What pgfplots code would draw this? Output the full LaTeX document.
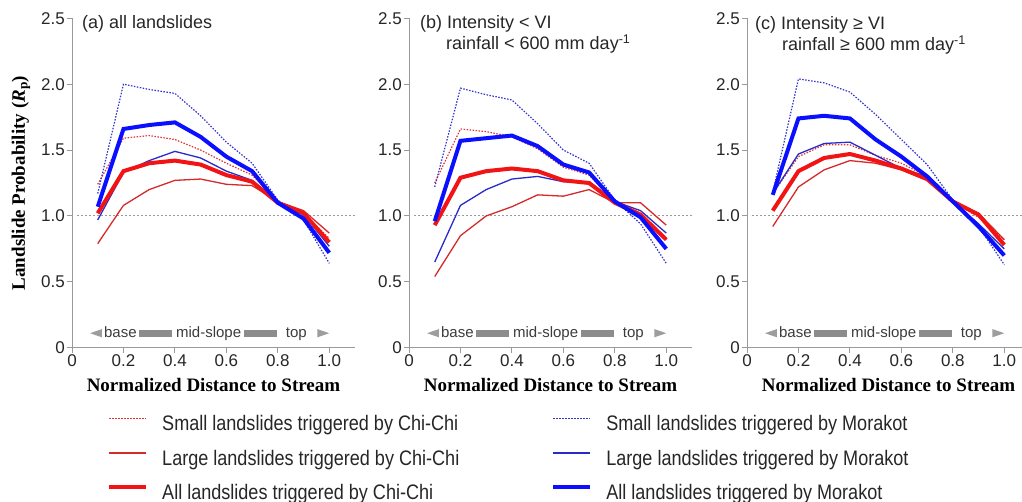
\documentclass[border=0pt]{standalone}
\usepackage{fontspec}
\setmainfont{Liberation Sans}
\newfontfamily\serifb{Liberation Serif}
\newfontfamily\legfont[FakeStretch=0.86]{Liberation Sans}
\usepackage{pgfplots}
\pgfplotsset{compat=1.18}

\definecolor{axisgray}{HTML}{9A9A9A}
\definecolor{slopegray}{HTML}{8C8C8C}
\definecolor{slopetext}{HTML}{3C3C3C}
\definecolor{chithick}{HTML}{F21414}
\definecolor{chithin}{HTML}{D42A2A}
\definecolor{chidot}{HTML}{E03434}
\definecolor{morthick}{HTML}{0A10FF}
\definecolor{morthin}{HTML}{2A2ACC}
\definecolor{mordot}{HTML}{3535CC}

\pgfplotsset{
  panel/.style={
    width=283pt, height=329.4pt, scale only axis,
    xmin=0, xmax=1.1, ymin=0, ymax=2.5,
    axis x line*=bottom, axis y line*=left,
    axis line style={draw=axisgray, line width=1pt, -},
    tick style={draw=axisgray, line width=1pt},
    tick align=outside, major tick length=5pt,
    xtick={0,0.2,0.4,0.6,0.8,1.0}, xticklabels={0,0.2,0.4,0.6,0.8,1.0},
    ytick={0,0.5,1,1.5,2,2.5}, yticklabels={0,0.5,1.0,1.5,2.0,2.5},
    /pgf/number format/assume math mode=true,
    ticklabel style={font=\fontsize{17}{20}\selectfont, text=black!85},
    xticklabel style={inner sep=0pt, anchor=north, yshift=-2pt},
    yticklabel style={inner sep=0pt, anchor=east, xshift=-2pt},
    xlabel={Normalized Distance to Stream},
    xlabel style={at={(axis description cs:0.5,0)}, anchor=base, yshift=-43.3pt,
      inner sep=0pt, font=\serifb\bfseries\fontsize{19}{22}\selectfont},
    clip=false,
    legend image code/.code={\draw[##1] (0pt,5.5pt) -- (37pt,5.5pt);},
  },
  smallchi/.style={chidot, line width=1.2pt, dash pattern=on 1.5pt off 1.5pt},
  largechi/.style={chithin, line width=1.3pt},
  allchi/.style={chithick, line width=4pt},
  smallmor/.style={mordot, line width=1.2pt, dash pattern=on 1.5pt off 1.5pt},
  largemor/.style={morthin, line width=1.3pt},
  allmor/.style={morthick, line width=4pt},
}

\newcommand{\refline}{%
  \addplot[axisgray, line width=1pt, dash pattern=on 1.5pt off 2.5pt, forget plot]
    coordinates {(0.02,1) (1.1,1)};}
\newcommand{\slopebar}{%
  \fill[slopegray!85] (axis cs:0.07,0.11) -- (axis cs:0.116,0.141) -- (axis cs:0.116,0.079) -- cycle;
  \fill[slopegray!85] (axis cs:1.0,0.11) -- (axis cs:0.954,0.141) -- (axis cs:0.954,0.079) -- cycle;
  \fill[slopegray] (axis cs:0.26,0.084) rectangle (axis cs:0.388,0.136);
  \fill[slopegray] (axis cs:0.67,0.084) rectangle (axis cs:0.798,0.136);
  \node[anchor=base, inner sep=0pt, text=slopetext, font=\fontsize{15}{18}\selectfont] at (axis cs:0.188,0.079) {base};
  \node[anchor=base, inner sep=0pt, text=slopetext, font=\fontsize{15}{18}\selectfont] at (axis cs:0.531,0.079) {mid-slope};
  \node[anchor=base, inner sep=0pt, text=slopetext, font=\fontsize{15}{18}\selectfont] at (axis cs:0.872,0.079) {top};
}

\begin{document}
\begin{tikzpicture}
\path[use as bounding box] (0,0) rectangle (1022pt,-502pt);

% (a) all landslides
\begin{axis}[panel, at={(72pt,-347.7pt)}, anchor=south west,
  ylabel={Landslide Probability (\textit{R}\textsubscript{p})},
  ylabel style={at={(axis description cs:-0.1802,0.5)}, anchor=center, inner sep=0pt,
    font=\serifb\bfseries\fontsize{19}{22}\selectfont},
  legend columns=2,
  legend style={draw=none, fill=none, inner sep=0pt,
    at={(axis description cs:0.1237,-0.2)}, anchor=north west,
    font=\legfont\fontsize{21}{24}\selectfont, text=black!85,
    cells={anchor=west, inner sep=0pt}, row sep=13.5pt,
    /tikz/every odd column/.append style={column sep=12pt},
    /tikz/every even column/.append style={column sep=90pt}},
]
\refline
\addplot[smallchi] coordinates {(0.1,1.24)(0.2,1.59)(0.3,1.61)(0.4,1.58)(0.5,1.50)(0.6,1.40)(0.7,1.31)(0.8,1.11)(0.9,1.02)(1.0,0.83)};
\addplot[smallmor] coordinates {(0.1,1.17)(0.2,2.00)(0.3,1.96)(0.4,1.93)(0.5,1.76)(0.6,1.56)(0.7,1.40)(0.8,1.12)(0.9,0.97)(1.0,0.64)};
\addplot[largechi] coordinates {(0.1,0.79)(0.2,1.08)(0.3,1.20)(0.4,1.27)(0.5,1.28)(0.6,1.24)(0.7,1.23)(0.8,1.11)(0.9,1.04)(1.0,0.87)};
\addplot[largemor] coordinates {(0.1,0.97)(0.2,1.33)(0.3,1.42)(0.4,1.49)(0.5,1.44)(0.6,1.34)(0.7,1.27)(0.8,1.11)(0.9,1.01)(1.0,0.77)};
\addplot[allchi] coordinates {(0.1,1.02)(0.2,1.34)(0.3,1.40)(0.4,1.42)(0.5,1.39)(0.6,1.31)(0.7,1.26)(0.8,1.10)(0.9,1.02)(1.0,0.80)};
\addplot[allmor] coordinates {(0.1,1.07)(0.2,1.66)(0.3,1.69)(0.4,1.71)(0.5,1.60)(0.6,1.45)(0.7,1.34)(0.8,1.10)(0.9,0.98)(1.0,0.72)};
\legend{Small landslides triggered by Chi-Chi, Small landslides triggered by Morakot,
  Large landslides triggered by Chi-Chi, Large landslides triggered by Morakot,
  All landslides triggered by Chi-Chi, All landslides triggered by Morakot}
\slopebar
\end{axis}

% (b) Intensity < VI
\begin{axis}[panel, at={(409pt,-347.7pt)}, anchor=south west]
\refline
\addplot[smallchi] coordinates {(0.1,1.25)(0.2,1.66)(0.3,1.64)(0.4,1.60)(0.5,1.51)(0.6,1.37)(0.7,1.31)(0.8,1.12)(0.9,1.02)(1.0,0.82)};
\addplot[smallmor] coordinates {(0.1,1.22)(0.2,1.97)(0.3,1.92)(0.4,1.88)(0.5,1.70)(0.6,1.50)(0.7,1.40)(0.8,1.12)(0.9,0.94)(1.0,0.64)};
\addplot[largechi] coordinates {(0.1,0.54)(0.2,0.85)(0.3,1.00)(0.4,1.07)(0.5,1.16)(0.6,1.15)(0.7,1.20)(0.8,1.10)(0.9,1.10)(1.0,0.93)};
\addplot[largemor] coordinates {(0.1,0.65)(0.2,1.08)(0.3,1.20)(0.4,1.28)(0.5,1.30)(0.6,1.26)(0.7,1.26)(0.8,1.11)(0.9,1.04)(1.0,0.87)};
\addplot[allchi] coordinates {(0.1,0.93)(0.2,1.29)(0.3,1.34)(0.4,1.36)(0.5,1.34)(0.6,1.27)(0.7,1.25)(0.8,1.10)(0.9,1.01)(1.0,0.82)};
\addplot[allmor] coordinates {(0.1,0.96)(0.2,1.57)(0.3,1.59)(0.4,1.61)(0.5,1.53)(0.6,1.39)(0.7,1.33)(0.8,1.11)(0.9,0.99)(1.0,0.75)};
\slopebar
\end{axis}

% (c) Intensity >= VI
\begin{axis}[panel, at={(747pt,-347.7pt)}, anchor=south west]
\refline
\addplot[smallchi] coordinates {(0.1,1.17)(0.2,1.45)(0.3,1.54)(0.4,1.54)(0.5,1.46)(0.6,1.40)(0.7,1.30)(0.8,1.11)(0.9,0.99)(1.0,0.82)};
\addplot[smallmor] coordinates {(0.1,1.18)(0.2,2.04)(0.3,2.01)(0.4,1.94)(0.5,1.77)(0.6,1.58)(0.7,1.39)(0.8,1.12)(0.9,0.92)(1.0,0.63)};
\addplot[largechi] coordinates {(0.1,0.92)(0.2,1.22)(0.3,1.35)(0.4,1.42)(0.5,1.40)(0.6,1.35)(0.7,1.27)(0.8,1.11)(0.9,1.02)(1.0,0.82)};
\addplot[largemor] coordinates {(0.1,1.17)(0.2,1.47)(0.3,1.55)(0.4,1.56)(0.5,1.46)(0.6,1.36)(0.7,1.30)(0.8,1.11)(0.9,0.94)(1.0,0.75)};
\addplot[allchi] coordinates {(0.1,1.04)(0.2,1.34)(0.3,1.44)(0.4,1.47)(0.5,1.42)(0.6,1.36)(0.7,1.28)(0.8,1.11)(0.9,1.01)(1.0,0.78)};
\addplot[allmor] coordinates {(0.1,1.16)(0.2,1.74)(0.3,1.76)(0.4,1.74)(0.5,1.58)(0.6,1.45)(0.7,1.30)(0.8,1.11)(0.9,0.92)(1.0,0.70)};
\slopebar
\end{axis}

% panel titles
\begin{scope}[every node/.style={anchor=base west, inner sep=0pt, text=black!85, font=\fontsize{18}{22}\selectfont}]
\node at (82pt,-29pt) {(a) all landslides};
\node at (420pt,-29pt) {(b) Intensity < VI};
\node at (446pt,-50pt) {rainfall < 600 mm day\textsuperscript{-1}};
\node at (755pt,-29.5pt) {(c) Intensity ≥ VI};
\node at (782pt,-51pt) {rainfall ≥ 600 mm day\textsuperscript{-1}};
\end{scope}
\end{tikzpicture}
\end{document}
